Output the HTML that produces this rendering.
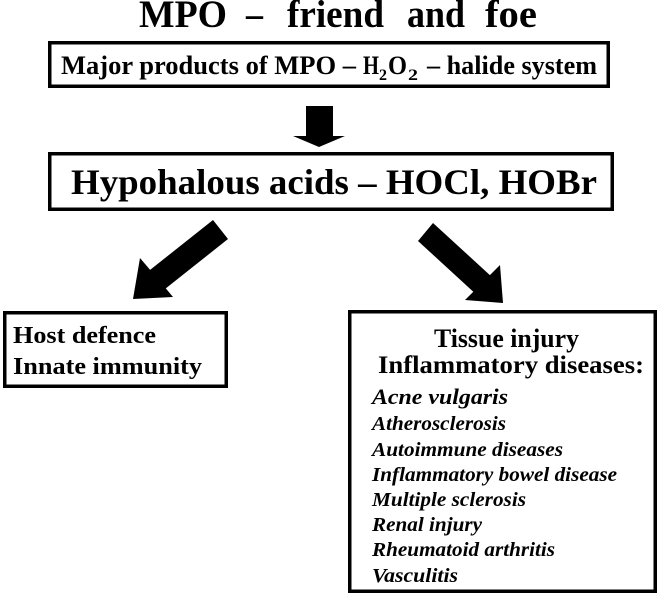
<!DOCTYPE html>
<html>
<head>
<meta charset="utf-8">
<style>
html,body{margin:0;padding:0;background:#fff;}
svg{display:block;}
text{font-family:"Liberation Serif","Times New Roman",serif;font-weight:bold;fill:#000;}
.it{font-style:italic;}
</style>
</head>
<body>
<svg width="661" height="596" viewBox="0 0 661 596" xmlns="http://www.w3.org/2000/svg">
<rect x="0" y="0" width="661" height="596" fill="#fff"/>

<!-- Title -->
<g font-size="39">
<text x="139" y="27" textLength="88" lengthAdjust="spacingAndGlyphs">MPO</text>
<text x="246" y="27" textLength="17" lengthAdjust="spacingAndGlyphs">–</text>
<text x="287" y="27" textLength="97" lengthAdjust="spacingAndGlyphs">friend</text>
<text x="407" y="27" textLength="58" lengthAdjust="spacingAndGlyphs">and</text>
<text x="485" y="27" textLength="52" lengthAdjust="spacingAndGlyphs">foe</text>
</g>

<!-- Box 1 -->
<rect x="49.75" y="42.75" width="558.5" height="43.5" fill="none" stroke="#000" stroke-width="3.5"/>
<g font-size="26">
<text x="61" y="74" textLength="295" lengthAdjust="spacingAndGlyphs">Major products of MPO –</text>
<text x="363" y="74" textLength="16" lengthAdjust="spacingAndGlyphs">H</text>
<text x="379" y="80" font-size="16" textLength="8" lengthAdjust="spacingAndGlyphs">2</text>
<text x="388" y="74" textLength="19" lengthAdjust="spacingAndGlyphs">O</text>
<text x="408" y="80" font-size="16" textLength="10" lengthAdjust="spacingAndGlyphs">2</text>
<text x="427" y="74" textLength="170" lengthAdjust="spacingAndGlyphs">– halide system</text>
</g>

<!-- Down arrow -->
<polygon points="306,106 333,106 333,136 345,136 319,147 293,136 306,136" fill="#000"/>

<!-- Box 2 -->
<rect x="49.75" y="153.75" width="562.5" height="55.5" fill="none" stroke="#000" stroke-width="3.5"/>
<text x="71" y="194" font-size="36" textLength="526" lengthAdjust="spacingAndGlyphs">Hypohalous acids – HOCl, HOBr</text>

<!-- Left diagonal arrow -->
<polygon points="213,220 228,239 165.8,288.4 173,297 133,299 140,258 150.1,269.9" fill="#000"/>

<!-- Right diagonal arrow -->
<polygon points="433,223 489.9,275.1 500,265 503,303 465,300 473.3,291.7 418,241" fill="#000"/>

<!-- Left box -->
<rect x="4.75" y="312.75" width="221.5" height="73.5" fill="none" stroke="#000" stroke-width="3.5"/>
<g font-size="24">
<text x="13" y="343" textLength="143" lengthAdjust="spacingAndGlyphs">Host defence</text>
<text x="13" y="374" textLength="189" lengthAdjust="spacingAndGlyphs">Innate immunity</text>
</g>

<!-- Right box -->
<rect x="349.75" y="311.75" width="305.5" height="279.5" fill="none" stroke="#000" stroke-width="3.5"/>
<text x="434" y="347" font-size="26" textLength="145" lengthAdjust="spacingAndGlyphs">Tissue injury</text>
<text x="378" y="373" font-size="25" textLength="266" lengthAdjust="spacingAndGlyphs">Inflammatory diseases:</text>

<text class="it" x="372" y="404" font-size="22" textLength="136" lengthAdjust="spacingAndGlyphs">Acne vulgaris</text>
<g class="it" font-size="20">
<text class="it" x="372" y="430" textLength="134" lengthAdjust="spacingAndGlyphs">Atherosclerosis</text>
<text class="it" x="372" y="456" textLength="191" lengthAdjust="spacingAndGlyphs">Autoimmune diseases</text>
<text class="it" x="372" y="481" textLength="245" lengthAdjust="spacingAndGlyphs">Inflammatory bowel disease</text>
<text class="it" x="372" y="506" textLength="154" lengthAdjust="spacingAndGlyphs">Multiple sclerosis</text>
<text class="it" x="372" y="531" textLength="110" lengthAdjust="spacingAndGlyphs">Renal injury</text>
<text class="it" x="372" y="556" textLength="183" lengthAdjust="spacingAndGlyphs">Rheumatoid arthritis</text>
<text class="it" x="372" y="582" textLength="86" lengthAdjust="spacingAndGlyphs">Vasculitis</text>
</g>
</svg>
</body>
</html>
